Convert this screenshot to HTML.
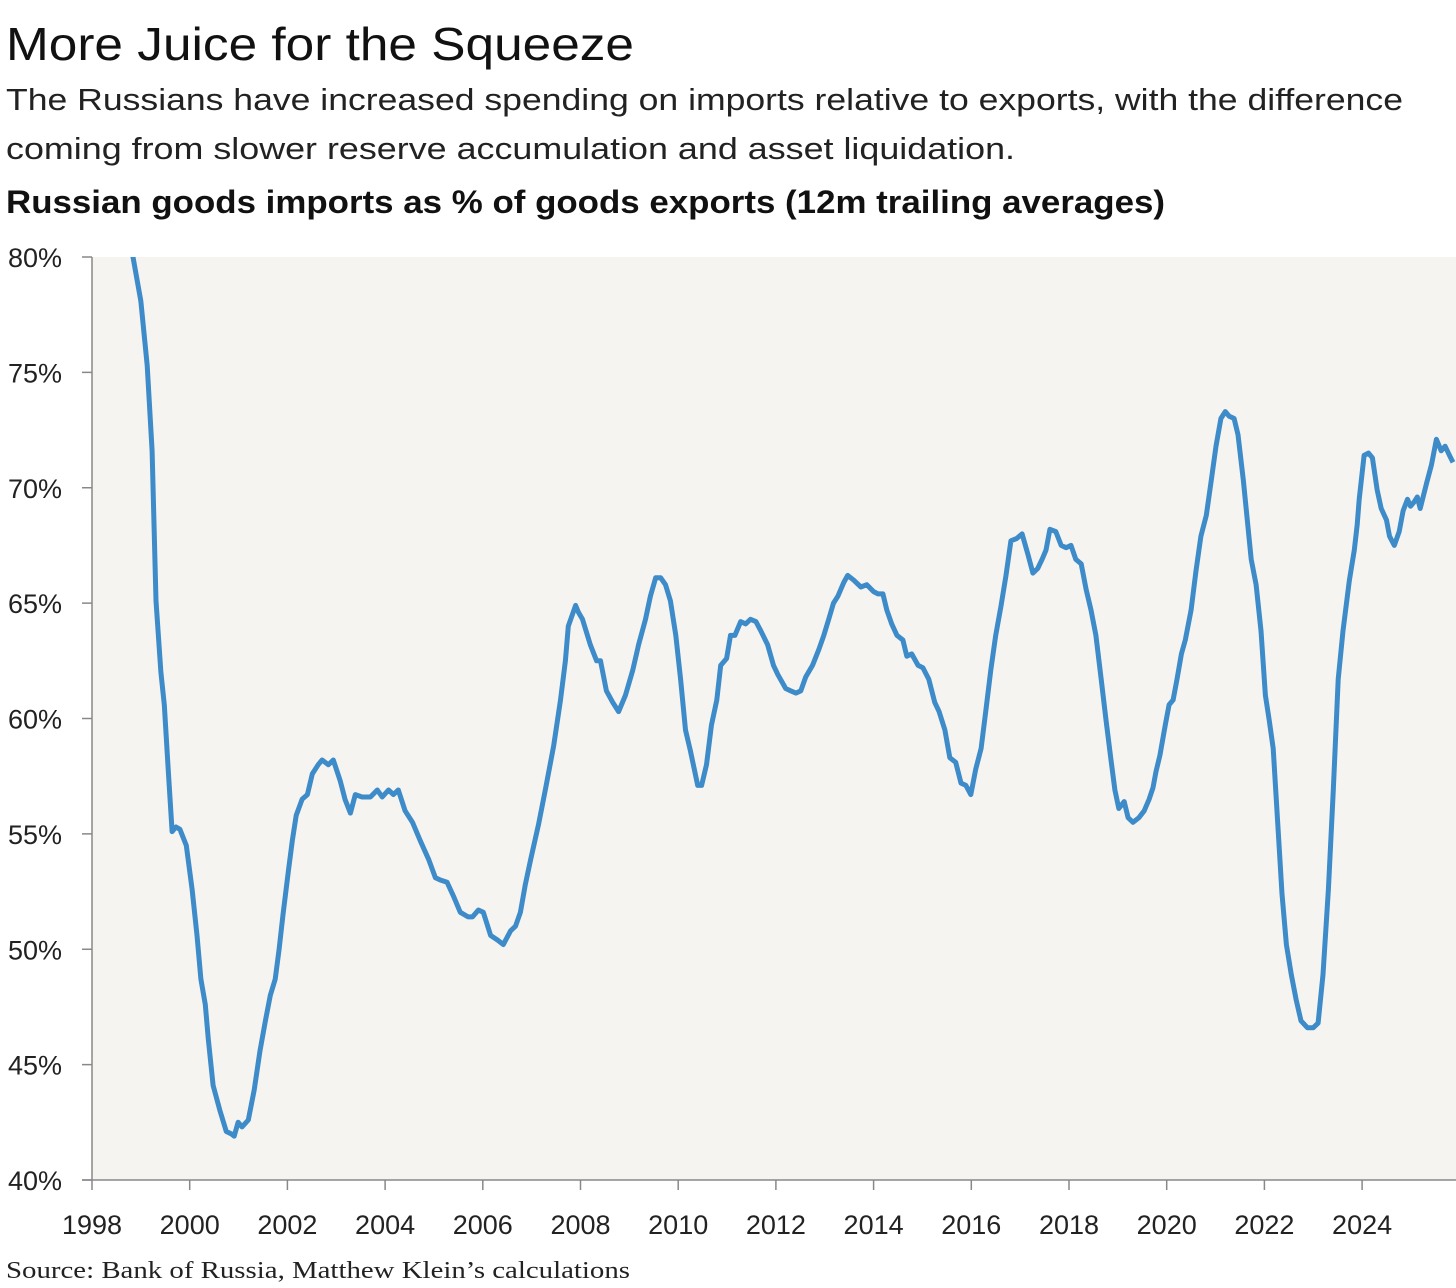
<!DOCTYPE html>
<html><head><meta charset="utf-8"><style>
html,body{margin:0;padding:0;background:#fff;}
svg{display:block;}
</style></head><body>
<svg id="chart" width="1456" height="1288" viewBox="0 0 1456 1288" xmlns="http://www.w3.org/2000/svg">
<text x="6" y="60" font-family="Liberation Sans, sans-serif" font-size="46" font-weight="300" fill="#111" textLength="628" lengthAdjust="spacingAndGlyphs">More Juice for the Squeeze</text>
<text x="6" y="110" font-family="Liberation Sans, sans-serif" font-size="31" fill="#222" textLength="1397" lengthAdjust="spacingAndGlyphs">The Russians have increased spending on imports relative to exports, with the difference</text>
<text x="6" y="159" font-family="Liberation Sans, sans-serif" font-size="31" fill="#222" textLength="1009" lengthAdjust="spacingAndGlyphs">coming from slower reserve accumulation and asset liquidation.</text>
<text x="6" y="213" font-family="Liberation Sans, sans-serif" font-size="32" font-weight="bold" fill="#111" textLength="1159" lengthAdjust="spacingAndGlyphs">Russian goods imports as % of goods exports (12m trailing averages)</text>
<rect x="92" y="257" width="1364" height="923" fill="#f6f4f0"/>
<g id="axes"></g>
<defs><clipPath id="clip"><rect x="92" y="257" width="1364" height="923"/></clipPath></defs>
<path id="line" fill="none" stroke="#3d8bc9" stroke-width="5" stroke-linejoin="round" clip-path="url(#clip)"/>
<text x="6" y="1278" font-family="Liberation Serif, serif" font-size="24" fill="#222" textLength="624" lengthAdjust="spacingAndGlyphs">Source: Bank of Russia, Matthew Klein’s calculations</text>
</svg>
<script>
const yearTicks = [1998,2000,2002,2004,2006,2008,2010,2012,2014,2016,2018,2020,2022,2024];
const valueTicks = [40,45,50,55,60,65,70,75,80];
const dates = [0.80,0.84,1.00,1.13,1.23,1.31,1.41,1.48,1.56,1.64,1.72,1.80,1.93,2.05,2.15,2.23,2.32,2.38,2.48,2.62,2.75,2.85,2.91,2.99,3.07,3.20,3.32,3.44,3.55,3.65,3.75,3.83,3.91,4.02,4.10,4.18,4.30,4.41,4.51,4.63,4.71,4.84,4.94,5.08,5.18,5.29,5.39,5.53,5.70,5.84,5.94,6.07,6.17,6.27,6.41,6.56,6.72,6.89,7.03,7.13,7.27,7.40,7.54,7.70,7.79,7.91,8.01,8.16,8.30,8.42,8.57,8.67,8.77,8.87,8.98,9.14,9.28,9.45,9.59,9.69,9.75,9.90,9.96,10.04,10.20,10.33,10.41,10.53,10.66,10.78,10.92,11.07,11.19,11.33,11.43,11.54,11.64,11.74,11.84,11.95,12.05,12.15,12.25,12.40,12.48,12.58,12.68,12.79,12.87,12.99,13.07,13.16,13.28,13.38,13.48,13.59,13.69,13.83,13.95,14.04,14.20,14.30,14.41,14.51,14.61,14.75,14.88,14.98,15.08,15.18,15.27,15.39,15.47,15.59,15.74,15.86,16.00,16.09,16.19,16.27,16.37,16.48,16.60,16.68,16.78,16.91,17.01,17.13,17.25,17.34,17.46,17.56,17.68,17.79,17.89,17.99,18.09,18.20,18.30,18.40,18.50,18.61,18.71,18.81,18.93,19.04,19.16,19.26,19.36,19.45,19.53,19.61,19.73,19.84,19.94,20.04,20.14,20.25,20.35,20.45,20.55,20.66,20.76,20.86,20.94,21.02,21.13,21.21,21.31,21.43,21.54,21.64,21.72,21.78,21.86,21.97,22.05,22.13,22.21,22.30,22.38,22.50,22.60,22.70,22.81,22.91,23.01,23.11,23.20,23.28,23.38,23.46,23.57,23.65,23.73,23.83,23.93,24.02,24.10,24.18,24.28,24.36,24.45,24.55,24.65,24.75,24.88,25.00,25.10,25.20,25.31,25.41,25.51,25.61,25.74,25.84,25.90,25.94,26.04,26.13,26.21,26.31,26.39,26.50,26.56,26.66,26.76,26.84,26.93,26.99,27.07,27.13,27.19,27.32,27.42,27.52,27.62,27.70,27.79,27.86];
const values = [81.0,80.0,78.1,75.3,71.6,65.1,62.0,60.6,57.8,55.1,55.3,55.2,54.5,52.6,50.6,48.7,47.6,46.1,44.1,43.0,42.1,42.0,41.9,42.5,42.3,42.6,43.9,45.6,46.9,48.0,48.7,50.0,51.5,53.4,54.7,55.8,56.5,56.7,57.6,58.0,58.2,58.0,58.2,57.3,56.5,55.9,56.7,56.6,56.6,56.9,56.6,56.9,56.7,56.9,56.0,55.5,54.7,53.9,53.1,53.0,52.9,52.3,51.6,51.4,51.4,51.7,51.6,50.6,50.4,50.2,50.8,51.0,51.6,52.8,53.9,55.4,56.9,58.8,60.8,62.5,64.0,64.9,64.6,64.3,63.2,62.5,62.5,61.2,60.7,60.3,61.0,62.1,63.2,64.3,65.3,66.1,66.1,65.8,65.1,63.6,61.7,59.5,58.6,57.1,57.1,58.0,59.7,60.8,62.3,62.6,63.6,63.6,64.2,64.1,64.3,64.2,63.8,63.2,62.3,61.9,61.3,61.2,61.1,61.2,61.8,62.3,63.0,63.6,64.3,65.0,65.3,65.9,66.2,66.0,65.7,65.8,65.5,65.4,65.4,64.7,64.1,63.6,63.4,62.7,62.8,62.3,62.2,61.7,60.7,60.3,59.5,58.3,58.1,57.2,57.1,56.7,57.8,58.7,60.4,62.1,63.6,64.9,66.2,67.7,67.8,68.0,67.1,66.3,66.5,66.9,67.3,68.2,68.1,67.5,67.4,67.5,66.9,66.7,65.6,64.7,63.6,61.7,59.9,58.2,56.9,56.1,56.4,55.7,55.5,55.7,56.0,56.5,57.0,57.7,58.4,59.7,60.6,60.8,61.7,62.8,63.4,64.7,66.4,67.9,68.8,70.3,71.8,73.0,73.3,73.1,73.0,72.3,70.3,68.6,66.9,65.8,63.8,61.0,59.9,58.7,55.2,52.4,50.2,48.9,47.8,46.9,46.6,46.6,46.8,48.9,52.6,56.9,61.7,63.8,66.0,67.3,68.4,69.5,71.4,71.5,71.3,69.9,69.1,68.6,67.9,67.5,68.1,69.0,69.5,69.2,69.4,69.6,69.1,70.2,71.0,72.1,71.6,71.8,71.4,71.1,71.9];

const NS='http://www.w3.org/2000/svg';
const X0=92, PXY=48.85, Y0=1180, PXV=23.075;
function xScale(yearsSince1998){return X0+yearsSince1998*PXY;}
function yScale(v){return Y0-(v-40)*PXV;}
const axes=document.getElementById('axes');
function mk(tag,attrs){const e=document.createElementNS(NS,tag);for(const k in attrs)e.setAttribute(k,attrs[k]);return e;}

const yAxis=mk('line',{x1:X0,y1:257,x2:X0,y2:Y0,stroke:'#888','stroke-width':1.5});


axes.appendChild(yAxis);
const xAxis=mk('line',{x1:82,y1:Y0,x2:1456,y2:Y0,stroke:'#888','stroke-width':1.5});


axes.appendChild(xAxis);

valueTicks.forEach(v=>{
  const y=yScale(v);
  const t=mk('line',{x1:82,y1:y,x2:X0,y2:y,stroke:'#888','stroke-width':1.5});
  
  
  axes.appendChild(t);
  const l=mk('text',{x:62,y:y+10,'text-anchor':'end','font-family':'Liberation Sans, sans-serif','font-size':27,'font-weight':300,fill:'#222'});
  l.textContent=v+'%';
  
  
  axes.appendChild(l);
});
yearTicks.forEach(yr=>{
  const x=xScale(yr-1998);
  const t=mk('line',{x1:x,y1:Y0,x2:x,y2:Y0+10,stroke:'#888','stroke-width':1.5});
  
  
  axes.appendChild(t);
  const l=mk('text',{x:x,y:1234,'text-anchor':'middle','font-family':'Liberation Sans, sans-serif','font-size':27,'font-weight':300,fill:'#222'});
  l.textContent=yr;
  
  
  axes.appendChild(l);
});
let d='';
dates.forEach((t,i)=>{d+=(i?'L':'M')+xScale(t).toFixed(1)+','+yScale(values[i]).toFixed(1);});
document.getElementById('line').setAttribute('d',d);
</script>
</body></html>
